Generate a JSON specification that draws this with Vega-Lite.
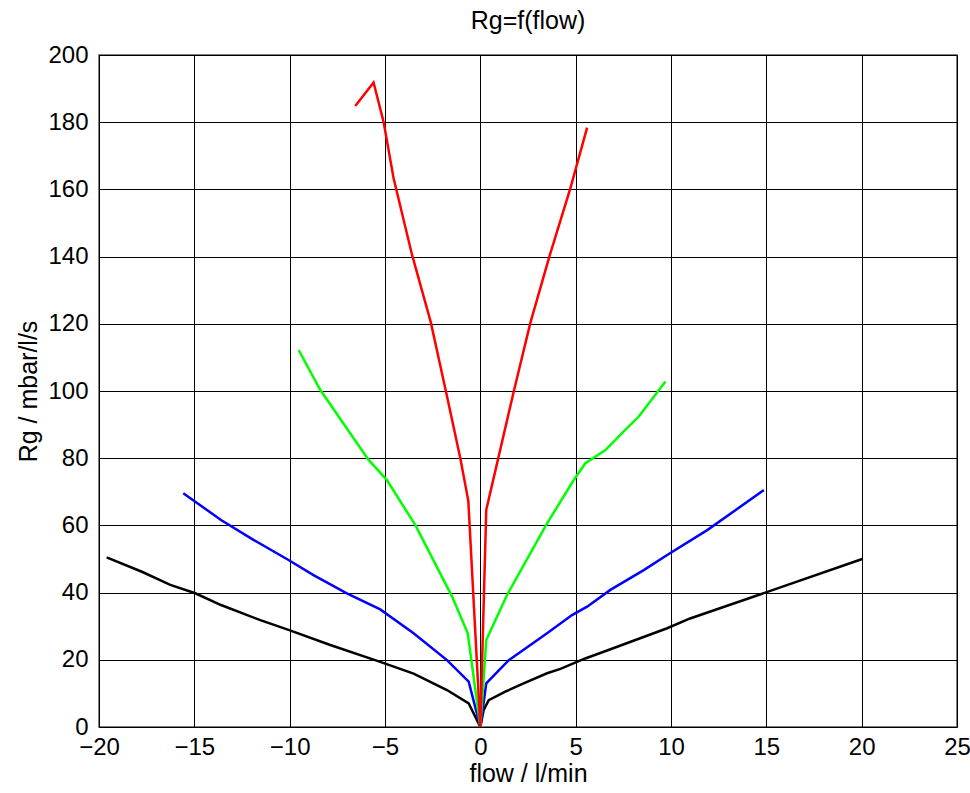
{
  "$schema": "https://vega.github.io/schema/vega-lite/v6.json",
  "autosize": "none",
  "width": 858,
  "height": 672,
  "padding": {"left": 99, "top": 55, "right": 13, "bottom": 66},
  "background": "white",
  "title": {"text": "Rg=f(flow)", "fontSize": 25, "font": "Liberation Sans", "fontWeight": "normal", "color": "#000", "offset": 9},
  "config": {
    "view": {"stroke": "#555", "strokeWidth": 1.5},
    "axis": {
      "grid": true, "gridColor": "#000", "gridOpacity": 1, "gridWidth": 1,
      "domain": false, "ticks": false,
      "labelFont": "Liberation Sans", "labelFontSize": 24, "labelColor": "#000",
      "titleFont": "Liberation Sans", "titleFontSize": 25, "titleFontWeight": "normal", "titleColor": "#000"
    }
  },
  "data": {"values": [
    {"s":"k","x":-19.6,"y":50.5},{"s":"k","x":-17.75,"y":46.2},{"s":"k","x":-16.26,"y":42.3},{"s":"k","x":-14.95,"y":39.8},{"s":"k","x":-13.6,"y":36.3},{"s":"k","x":-11.54,"y":31.8},{"s":"k","x":-10.06,"y":28.9},{"s":"k","x":-7.87,"y":24.4},{"s":"k","x":-5.25,"y":19.4},{"s":"k","x":-3.5,"y":15.9},{"s":"k","x":-1.75,"y":11},{"s":"k","x":-0.61,"y":7},{"s":"k","x":0,"y":0},{"s":"k","x":0.17,"y":5},{"s":"k","x":0.44,"y":8},{"s":"k","x":1.31,"y":10.5},{"s":"k","x":2.27,"y":13},{"s":"k","x":3.5,"y":16},{"s":"k","x":4.2,"y":17.3},{"s":"k","x":5.5,"y":20.4},{"s":"k","x":6.47,"y":22.4},{"s":"k","x":9.8,"y":29.4},{"s":"k","x":11.0,"y":32.3},{"s":"k","x":14.7,"y":39.5},{"s":"k","x":20.03,"y":50.0},
    {"s":"b","x":-15.58,"y":69.6},{"s":"b","x":-13.6,"y":61.6},{"s":"b","x":-11.9,"y":55.7},{"s":"b","x":-10.06,"y":49.7},{"s":"b","x":-8.75,"y":45.2},{"s":"b","x":-7.0,"y":39.8},{"s":"b","x":-5.25,"y":35},{"s":"b","x":-3.5,"y":27.9},{"s":"b","x":-1.75,"y":19.9},{"s":"b","x":-0.61,"y":13.5},{"s":"b","x":0,"y":0},{"s":"b","x":0.31,"y":13},{"s":"b","x":1.49,"y":19.9},{"s":"b","x":3.5,"y":27.9},{"s":"b","x":4.81,"y":33.3},{"s":"b","x":5.6,"y":35.8},{"s":"b","x":6.82,"y":40.8},{"s":"b","x":8.57,"y":46.7},{"s":"b","x":9.8,"y":51.2},{"s":"b","x":11.9,"y":58.6},{"s":"b","x":14.87,"y":70.5},
    {"s":"g","x":-9.53,"y":112.2},{"s":"g","x":-8.39,"y":100.3},{"s":"g","x":-5.86,"y":79.5},{"s":"g","x":-4.9,"y":73.5},{"s":"g","x":-3.4,"y":60},{"s":"g","x":-1.48,"y":38.8},{"s":"g","x":-0.66,"y":27.9},{"s":"g","x":0,"y":0},{"s":"g","x":0.31,"y":25.9},{"s":"g","x":1.4,"y":39.3},{"s":"g","x":3.5,"y":60.6},{"s":"g","x":4.9,"y":73.5},{"s":"g","x":5.51,"y":78.5},{"s":"g","x":6.56,"y":82.4},{"s":"g","x":7.6,"y":88.4},{"s":"g","x":8.31,"y":92.4},{"s":"g","x":9.71,"y":102.8},
    {"s":"r","x":-6.56,"y":184.8},{"s":"r","x":-5.6,"y":191.8},{"s":"r","x":-5.07,"y":180},{"s":"r","x":-4.55,"y":163.3},{"s":"r","x":-3.58,"y":140.5},{"s":"r","x":-2.6,"y":120.5},{"s":"r","x":-1.8,"y":99.8},{"s":"r","x":-1.05,"y":80},{"s":"r","x":-0.63,"y":67.3},{"s":"r","x":0,"y":0},{"s":"r","x":0.31,"y":64.6},{"s":"r","x":1.75,"y":99.8},{"s":"r","x":2.62,"y":120.2},{"s":"r","x":3.62,"y":140},{"s":"r","x":4.72,"y":160.3},{"s":"r","x":5.6,"y":178.4}
  ]},
  "mark": {"type": "line", "strokeWidth": 2.5, "clip": true},
  "encoding": {
    "x": {"field": "x", "type": "quantitative", "scale": {"domain": [-20, 25], "nice": false, "zero": false},
          "axis": {"values": [-20,-15,-10,-5,0,5,10,15,20,25], "title": "flow / l/min", "labelPadding": 8, "titlePadding": 2, "labelFlush": false}},
    "y": {"field": "y", "type": "quantitative", "scale": {"domain": [0, 200], "nice": false},
          "axis": {"values": [0,20,40,60,80,100,120,140,160,180,200], "title": "Rg / mbar/l/s", "labelPadding": 11, "titlePadding": 6, "labelFlush": false}},
    "color": {"field": "s", "type": "nominal", "legend": null,
              "scale": {"domain": ["k","b","g","r"], "range": ["#000000","#0000ff","#00ff00","#ff0000"]}}
  }
}
